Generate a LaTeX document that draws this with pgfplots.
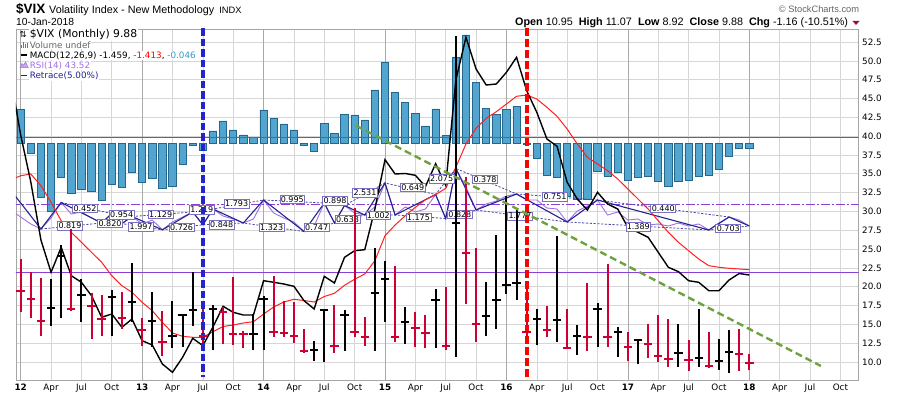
\documentclass[border=0pt]{standalone}
\usepackage{pgfplots}
\pgfplotsset{compat=1.18}
\usepackage{pgfplotstable}
\usepackage{fontspec}
\setmainfont{DejaVu Sans}
\newfontfamily\lib{Liberation Sans}

\definecolor{downred}{HTML}{CC0033}
\definecolor{histfill}{HTML}{52A5CE}
\definecolor{histdraw}{HTML}{23688C}
\definecolor{sigred}{HTML}{FF2020}
\definecolor{rsiline}{HTML}{A070E4}
\definecolor{rsiref}{HTML}{8A3FD8}
\definecolor{zznavy}{HTML}{24248E}
\definecolor{zzdash}{HTML}{4848AA}
\definecolor{lblbox}{HTML}{7A70C4}
\definecolor{trendgreen}{HTML}{6FA23E}
\definecolor{vblue}{HTML}{2424CC}
\definecolor{vred}{HTML}{FF0000}
\definecolor{gridc}{HTML}{D6D6D6}
\definecolor{gridy}{HTML}{A8A8A8}
\definecolor{legblue}{HTML}{3399CC}
\definecolor{trired}{HTML}{A01030}

% monthly bars: m = months since Jan 2012, close, high, low
\pgfplotstableread{
m c h l
3 17.15 21.0 14.8
4 24.06 25.5 15.9
6 18.93 21.0 15.35
9 18.60 19.55 13.5
11 18.02 23.2 15.35
13 15.51 19.3 12.0
15 13.52 18.1 11.8
16 16.30 16.4 12.0
17 16.86 21.9 14.8
19 17.01 17.6 11.65
23 13.72 16.4 11.65
24 18.41 18.8 11.65
29 11.57 12.75 10.2
30 16.95 17.04 10.05
32 16.31 16.95 11.4
35 19.20 25.1 11.4
36 20.97 23.4 15.36
38 15.29 17.27 12.4
41 18.23 19.7 11.82
43 28.43 53.29 10.7
46 16.13 20.6 13.5
47 18.21 26.81 14.4
48 20.20 32.1 19.0
49 20.55 30.3 18.3
51 15.70 17.04 12.26
53 15.63 26.72 12.6
55 13.42 14.9 10.9
57 17.06 17.8 12.0
59 14.04 14.6 10.7
61 12.92 13.0 9.8
65 11.18 15.0 9.3
67 10.59 17.1 9.4
69 10.18 13.1 9.0
70 11.28 14.3 8.5
}\upbars

\pgfplotstableread{
m c h l
0 19.44 23.7 16.7
1 18.43 21.9 15.9
2 15.50 21.1 13.45
5 17.08 27.7 16.8
7 17.47 19.2 13.05
8 15.73 18.9 13.4
10 15.87 19.3 14.4
12 14.28 15.9 12.1
14 12.70 16.8 10.8
18 13.45 17.1 12.3
20 16.60 17.27 12.4
21 13.75 21.25 12.2
22 13.70 14.16 11.8
25 14.00 21.4 13.28
26 13.88 18.15 13.28
27 13.41 17.93 12.53
28 11.40 14.4 11.2
31 12.09 17.57 11.2
33 14.03 30.4 13.28
34 13.33 15.94 12.1
37 13.34 22.7 12.7
39 14.55 16.6 11.95
40 13.84 16.24 11.82
42 12.12 19.92 11.64
44 24.50 34.6 17.7
45 15.07 25.1 12.6
50 13.95 20.7 13.1
52 14.19 17.5 13.28
54 11.87 17.04 11.8
56 13.29 20.5 11.5
58 13.33 23.0 12.0
60 11.99 14.0 10.2
62 12.37 15.0 10.5
63 10.82 16.2 10.0
64 10.41 15.7 9.4
66 10.26 12.9 8.8
68 9.51 14.0 9.25
71 11.04 14.4 8.8
72 9.88 11.07 8.92
}\downbars

% MACD histogram, in pixels above its zero line
\pgfplotstableread{
m h
0 34.2
1 -9.8
2 -53.8
3 -67.5
4 -33.8
5 -49.8
6 -45.8
7 -47.5
8 -56.5
9 -40.5
10 -43.8
11 -29.2
12 -38.5
13 -34.8
14 -44.8
15 -42.5
16 -20.8
17 -2.2
18 -6.5
19 12.5
20 22.5
21 13.5
22 8.5
23 6.2
24 33.5
25 25.2
26 19.5
27 13.5
28 -2.2
29 -8.2
30 20.2
31 10.2
32 29.2
33 28.5
34 23.5
35 53.5
36 81.2
37 51.2
38 41.2
39 30.2
40 17.5
41 34.5
42 8
43 86.2
44 108.5
45 61.2
46 35.2
47 29.2
48 34.2
49 37.2
50 -1
51 -14.8
52 -31.5
53 -33.8
54 -53.2
55 -55.8
56 -55.8
57 -28.2
58 -32.5
59 -29.2
60 -36.5
61 -33.8
62 -32.5
63 -38.2
64 -42.5
65 -37.5
66 -36.5
67 -32.5
68 -31.5
69 -25.5
70 -12.5
71 -4.8
72 -4.8
}\histt

% MACD line (pixel rows from top of image)
\pgfplotstableread{
m y
-1 77
0 135
1 182
2 240
3 272.3
4 247.3
5 275.7
6 282.3
7 295.7
8 317.3
9 314
10 327.3
11 319
12 340.7
13 345
14 364
15 372.3
16 357.3
17 338.3
18 345.7
19 327
20 306.3
21 312.3
22 315
23 315
24 280.7
25 282.3
26 284
27 286.3
28 300.7
29 309
30 276.3
31 283
32 257.3
33 250.7
34 249.7
35 209
36 159.7
37 174
38 173.5
39 175.3
40 186.5
41 163.7
42 185.3
43 80
44 37.3
45 69
46 85
47 84
48 72.3
49 57.3
50 90.7
51 112.3
52 139
53 146.3
54 182.3
55 199
56 210
57 192.3
58 204
59 209
60 227.3
61 232.3
62 237.3
63 252.3
64 267.3
65 271.7
66 280.7
67 282.3
68 290.7
69 290.7
70 280
71 273.5
72 275
}\macdt

% signal line
\pgfplotstableread{
m y
-1 180
0 175.7
1 174
2 185.7
3 202.3
4 220.7
5 232.3
6 242.3
7 252.3
8 262.3
9 275.7
10 285.7
11 292.3
12 302.3
13 310.7
14 322.3
15 333
16 336.3
17 337.3
18 337.3
19 331.7
20 326.5
21 325
22 323
23 321.7
24 314
25 307
26 302
27 299.3
28 300.5
29 302
30 296.5
31 293.3
32 285.3
33 279.2
34 274
35 260.7
36 235.7
37 225
38 215.7
39 207.3
40 199.7
41 194.7
42 188.3
43 167.3
44 144
45 128.3
46 118.3
47 111.7
48 104
49 96.3
50 95
51 99
52 107.3
53 116.3
54 129
55 144
56 157.3
57 164
58 170.7
59 179
60 189
61 199
62 209
63 220.7
64 232.3
65 242.3
66 250.7
67 259
68 265.7
69 267.3
70 268.3
71 269
72 269.7
}\sigt

% RSI line
\pgfplotstableread{
m y
-1 210
0 217
1 224
2 229
3 218
4 202.5
5 214
6 212
7 218
8 223
9 213.5
10 223.6
11 216.5
12 224
13 220
14 229.8
15 222
16 217
17 212
18 224.8
19 209
20 216
21 219
22 223
23 219
24 200
25 213
26 218
27 222
28 231.5
29 226
30 203
31 223
32 205.5
33 213
34 215
35 207
36 183
37 215
38 207
39 212
40 209
41 194.5
42 218.5
43 168.5
44 187
45 210
46 204
47 201
48 196
49 194
50 200
51 200
52 208
53 209
54 222
55 211
56 206
57 200
58 215
59 212
60 220
61 219
62 225
63 224
64 226
65 223
66 226
67 224
68 230
69 223
70 217
71 220
72 226
}\rsit

% Retrace zigzag pivots
\pgfplotstableread{
m y
-1 190
2 229
4 202.5
8 223
9 213.5
10 223.6
11 216.5
14 229.8
17 212
18 224.8
19 209
22 223
24 200
28 231.5
30 203
31 223
32 205.5
34 215
36 183
37 215
41 194.5
42 218.5
43 168.5
45 210
49 194
54 222
57 200
68 230
70 217
72 226
}\zzt

\pgfplotstableread{
m y
4 202.5
9 213.5
11 216.5
17 212
19 209
24 200
30 203
32 205.5
36 183
41 194.5
43 168.5
49 194
57 200
70 217
}\zzhigh

\pgfplotstableread{
m y
2 229
8 223
10 223.6
14 229.8
18 224.8
22 223
28 231.5
31 223
34 215
37 215
42 218.5
45 210
54 222
68 230
72 226
}\zzlow

\pgfplotstableread{
x y lab
6.36 208.3 0.452
4.87 226 0.819
8.83 223.3 0.820
9.98 215 0.954
11.9 226.7 1.997
13.83 214.3 1.129
15.9 227.3 0.726
17.9 210 1.219
19.86 225 0.848
21.34 204 1.793
24.8 227.3 1.323
26.84 199.3 0.995
29.25 227.3 0.747
31.06 200.7 0.898
32.3 219.3 0.638
34.02 192.7 2.531
35.34 215.3 1.002
38.74 187.3 0.649
39.3 217.3 1.175
41.6 179 2.075
45.88 179.3 0.378
43.4 214.3 0.828
49.34 216 1.777
52.8 196.7 0.751
63.5 208.3 0.440
61.03 226.7 1.389
69.92 228.3 0.703
}\labs

\pgfplotsset{base/.style={scale only axis, width=842.5pt, height=351pt,
  xmin=-0.464, xmax=82.79, at={(0pt,0pt)}, anchor=south west}}

\begin{document}
\begin{tikzpicture}
\useasboundingbox (-16pt,-16pt) rectangle (884pt,380pt);
\fill[white] (-16pt,-16pt) rectangle (884pt,380pt);

% grid and tick labels
\begin{axis}[base, ymin=7.613, ymax=54.226,
  xtick={0,3,...,81},
  xticklabels={\textbf{12},Apr,Jul,Oct,\textbf{13},Apr,Jul,Oct,\textbf{14},Apr,Jul,Oct,\textbf{15},Apr,Jul,Oct,\textbf{16},Apr,Jul,Oct,\textbf{17},Apr,Jul,Oct,\textbf{18},Apr,Jul,Oct},
  ytick={10,12.5,15,17.5,20,22.5,25,27.5,30,32.5,35,37.5,40,42.5,45,47.5,50,52.5},
  yticklabel pos=right,
  grid=major, major grid style={gridc, line width=0.6pt},
  extra x ticks={0,12,24,36,48,60,72}, extra x tick labels={},
  extra x tick style={grid=major, major grid style={gridy, line width=0.7pt}},
  axis line style={gray!70, line width=0.6pt},
  major tick length=0pt,
  tick label style={font=\fontsize{8.8}{10}\selectfont},
  xticklabel style={anchor=base, yshift=-10.7pt, inner sep=0pt},
  yticklabel style={anchor=west, inner sep=0pt, xshift=3.5pt},
  /pgf/number format/.cd, fixed, fixed zerofill, precision=1, assume math mode=true]
\addplot[draw=none] coordinates {(0,20)};
\end{axis}

% MACD histogram
\begin{axis}[base, hide axis, ymin=-236.5, ymax=114.5]
\addplot[ybar, bar width=7.3pt, fill=histfill, draw=histdraw, line width=0.8pt] table[x=m, y=h]{\histt};
\end{axis}

% indicator overlays in pixel rows
\begin{axis}[base, hide axis, y dir=reverse, ymin=29, ymax=380]
\addplot[rsiref, line width=0.9pt] coordinates {(-1,137.3) (84,137.3)};
\addplot[rsiref, line width=0.9pt] coordinates {(-1,272.3) (84,272.3)};
\addplot[rsiref, line width=0.9pt, dash pattern=on 9pt off 2pt on 2pt off 2pt] coordinates {(-1,204.5) (84,204.5)};
\addplot[rsiline, line width=0.9pt] table[x=m, y=y]{\rsit};
\addplot[zzdash, line width=0.8pt, dash pattern=on 2.2pt off 1.6pt] table[x=m, y=y]{\zzhigh};
\addplot[zzdash, line width=0.8pt, dash pattern=on 2.2pt off 1.6pt] table[x=m, y=y]{\zzlow};
\addplot[zznavy, line width=1.1pt] table[x=m, y=y]{\zzt};
\addplot[draw=none, mark=none, nodes near coords, point meta=explicit symbolic,
  nodes near coords style={anchor=center, font=\fontsize{8}{9}\selectfont, fill=white, draw=lblbox,
  line width=0.7pt, inner xsep=1pt, inner ysep=1.2pt, text=black}]
  table[x=x, y=y, meta=lab]{\labs};
\addplot[sigred, line width=1pt] table[x=m, y=y]{\sigt};
\addplot[black, line width=1.4pt] table[x=m, y=y]{\macdt};
\end{axis}

% price bars and annotations
\begin{axis}[base, hide axis, ymin=7.613, ymax=54.226]
\addplot[downred, only marks, mark=-, mark size=4.2pt, mark options={line width=2pt, downred},
  error bars/y dir=both, error bars/y explicit, error bars/error mark=none,
  error bars/error bar style={line width=2pt, downred}]
  table[x=m, y=c, y error plus expr=\thisrow{h}-\thisrow{c}, y error minus expr=\thisrow{c}-\thisrow{l}]{\downbars};
\addplot[black, only marks, mark=-, mark size=4.2pt, mark options={line width=2pt, black},
  error bars/y dir=both, error bars/y explicit, error bars/error mark=none,
  error bars/error bar style={line width=2pt, black}]
  table[x=m, y=c, y error plus expr=\thisrow{h}-\thisrow{c}, y error minus expr=\thisrow{c}-\thisrow{l}]{\upbars};
\addplot[trendgreen, line width=2.4pt, dash pattern=on 7pt off 4pt] coordinates {(33.13,41.4) (79.08,9.47)};
\addplot[vblue, line width=3.5pt, dash pattern=on 7.5pt off 3pt] coordinates {(18,54.3) (18,8.0)};
\addplot[vred, line width=4pt, dash pattern=on 8pt off 3pt] coordinates {(50,54.3) (50,8.0)};
\end{axis}

% header
\node[anchor=base west, inner sep=0pt] at (0pt,366pt)
  {\lib\fontsize{13.5}{14}\selectfont\bfseries \$VIX\ \mdseries\fontsize{10.8}{12}\selectfont Volatility Index - New Methodology\hspace{5pt}\fontsize{9.3}{10}\selectfont INDX};
\node[anchor=base west, inner sep=0pt] at (0pt,354.3pt) {\lib\fontsize{10.3}{12}\selectfont 10-Jan-2018};
\node[anchor=base east, inner sep=0pt] at (832.3pt,354.3pt)
  {\lib\fontsize{10.8}{12}\selectfont \textbf{Open} 10.95\hspace{3pt} \textbf{High} 11.07\hspace{3pt} \textbf{Low} 8.92\hspace{3pt} \textbf{Close} 9.88\hspace{3pt} \textbf{Chg} -1.16 (-10.51\%)};
\fill[trired] (836.5pt,359pt) -- (843.5pt,359pt) -- (840pt,355pt) -- cycle;
\node[anchor=base east, inner sep=0pt, text={black!60}] at (843.3pt,367.3pt) {\lib\fontsize{9.3}{11}\selectfont © StockCharts.com};

% legend
\node[anchor=base west, inner sep=0.6pt, fill=white] at (13pt,342.3pt) {\fontsize{10.8}{12}\selectfont \$VIX (Monthly) 9.88};
\node[anchor=base west, inner sep=0pt] at (3.5pt,342.3pt) {\fontsize{8.5}{10}\selectfont ⇅};
\node[anchor=base west, inner sep=0.6pt, fill=white, text={black!60}] at (13pt,331.7pt) {\fontsize{8.8}{10}\selectfont Volume undef};
\fill[black!55] (4.8pt,331.7pt) rectangle ++(1.4pt,3.5pt);
\fill[black!55] (6.8pt,331.7pt) rectangle ++(1.4pt,6pt);
\fill[black!55] (8.8pt,331.7pt) rectangle ++(1.4pt,4.5pt);
\fill[black!55] (10.8pt,331.7pt) rectangle ++(1.4pt,5.2pt);
\node[anchor=base west, inner sep=0.6pt, fill=white] at (13pt,321.7pt)
  {\fontsize{8.8}{10}\selectfont MACD(12,26,9) -1.459, \textcolor{red}{-1.413}, \textcolor{legblue}{-0.046}};
\draw[black, line width=1.6pt] (4.7pt,325pt) -- (10.7pt,325pt);
\node[anchor=base west, inner sep=0.6pt, fill=white, text=rsiline] at (13pt,311.7pt) {\fontsize{8.8}{10}\selectfont RSI(14) 43.52};
\filldraw[fill=rsiline!60, draw=rsiline, line width=0.5pt] (4pt,312.3pt) -- (6pt,316.5pt) -- (7.5pt,314.5pt) -- (9.5pt,318pt) -- (12.3pt,312.3pt) -- cycle;
\node[anchor=base west, inner sep=0.6pt, fill=white, text=zznavy] at (13pt,301pt) {\fontsize{8.8}{10}\selectfont Retrace(5.00\%)};
\draw[zznavy, line width=1.6pt] (4.7pt,304.3pt) -- (10.7pt,304.3pt);
\end{tikzpicture}
\end{document}
